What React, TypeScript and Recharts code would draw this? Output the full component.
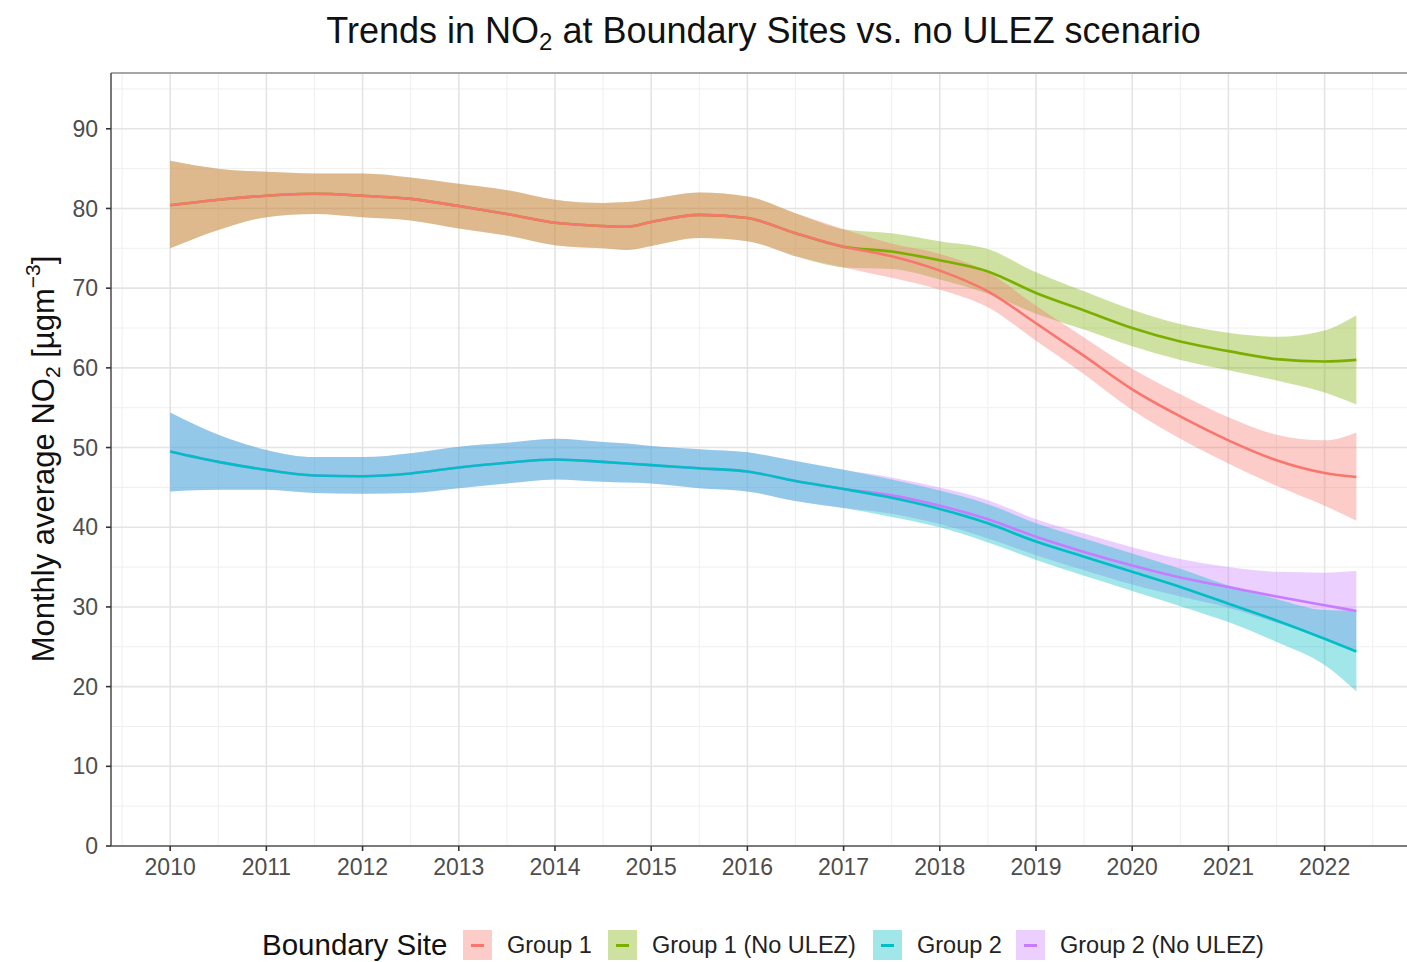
import React from 'react';
import { ComposedChart, Area, Line, XAxis, YAxis, CartesianGrid, ReferenceLine } from 'recharts';

// sampled points of the smoothed trends (years)
const YEARS = [
  2010, 2010.5, 2011, 2011.5, 2012, 2012.5, 2013, 2013.5, 2014, 2014.5, 2014.75, 2015, 2015.5,
  2016, 2016.5, 2017, 2017.5, 2018, 2018.5, 2019, 2019.5, 2020, 2020.5, 2021, 2021.5, 2022, 2022.33,
];

// Group 1 (actual)
const G1_FIT = [80.4, 81.1, 81.6, 81.85, 81.6, 81.2, 80.3, 79.3, 78.2, 77.8, 77.7, 78.3, 79.2, 78.8, 76.9, 75.2, 74.0, 72.2, 69.6, 65.6, 61.5, 57.3, 53.9, 50.9, 48.4, 46.8, 46.3];
const G1_LO = [75.0, 77.3, 78.9, 79.3, 78.9, 78.5, 77.5, 76.6, 75.4, 75.0, 74.8, 75.3, 76.3, 75.9, 74.0, 72.6, 71.3, 69.8, 67.6, 63.4, 59.2, 54.7, 51.1, 48.0, 45.2, 42.7, 40.8];
const G1_HI = [86.0, 85.0, 84.6, 84.4, 84.4, 83.9, 83.1, 82.3, 81.1, 80.7, 80.8, 81.2, 82.0, 81.5, 79.4, 77.4, 75.6, 74.3, 72.0, 67.8, 63.8, 59.9, 56.7, 53.8, 51.6, 50.9, 51.9];

// Group 2 (actual)
const G2_FIT = [49.5, 48.2, 47.2, 46.5, 46.4, 46.75, 47.5, 48.1, 48.5, 48.2, 48.0, 47.8, 47.4, 47.0, 45.8, 44.8, 43.7, 42.3, 40.5, 38.2, 36.3, 34.4, 32.5, 30.4, 28.3, 26.0, 24.4];
const G2_LO = [44.5, 44.7, 44.7, 44.3, 44.2, 44.3, 44.9, 45.5, 46.0, 45.7, 45.6, 45.5, 44.9, 44.5, 43.3, 42.4, 41.3, 40.0, 38.1, 35.9, 33.9, 32.0, 30.1, 28.1, 25.6, 22.7, 19.4];
const G2_HI = [54.4, 51.6, 49.7, 48.8, 48.8, 49.3, 50.1, 50.6, 51.1, 50.7, 50.5, 50.2, 49.8, 49.4, 48.3, 47.2, 46.0, 44.6, 42.9, 40.5, 38.6, 36.7, 34.8, 32.7, 31.0, 29.6, 29.5];

// no ULEZ scenarios, from 2017 on (before that they follow the actual series)
const SCENARIO_START = 2017;
const G1N_FIT = [75.2, 74.6, 73.5, 72.1, 69.4, 67.2, 65.0, 63.3, 62.1, 61.1, 60.8, 61.0];
const G1N_LO = [72.6, 72.4, 71.1, 69.3, 66.8, 64.8, 62.7, 61.0, 59.7, 58.4, 56.9, 55.4];
const G1N_HI = [77.4, 76.9, 75.9, 74.9, 72.0, 69.6, 67.3, 65.5, 64.4, 63.9, 64.7, 66.6];
const G2N_FIT = [44.8, 44.0, 42.7, 41.0, 38.8, 36.9, 35.2, 33.7, 32.5, 31.3, 30.2, 29.5];
const G2N_LO = [42.4, 41.7, 40.4, 38.6, 36.5, 34.6, 32.8, 31.3, 29.9, 28.0, 26.0, 24.6];
const G2N_HI = [47.2, 46.25, 45.0, 43.4, 41.0, 39.2, 37.5, 36.0, 35.0, 34.4, 34.3, 34.5];

const X_TICKS = [2010, 2011, 2012, 2013, 2014, 2015, 2016, 2017, 2018, 2019, 2020, 2021, 2022];
const Y_TICKS = [0, 10, 20, 30, 40, 50, 60, 70, 80, 90];
const X_MINOR = [2009.5, 2010.5, 2011.5, 2012.5, 2013.5, 2014.5, 2015.5, 2016.5, 2017.5, 2018.5, 2019.5, 2020.5, 2021.5, 2022.5];
const Y_MINOR = [5, 15, 25, 35, 45, 55, 65, 75, 85, 95];

const SERIES = [
  { key: 'g1', label: 'Group 1', color: '#F8766D' },
  { key: 'g1n', label: 'Group 1 (No ULEZ)', color: '#7CAE00' },
  { key: 'g2', label: 'Group 2', color: '#00BFC4' },
  { key: 'g2n', label: 'Group 2 (No ULEZ)', color: '#C77CFF' },
];

const startIdx = YEARS.indexOf(SCENARIO_START);
const data = YEARS.map((year, i) => {
  const j = i - startIdx;
  const after = j >= 0;
  return {
    year,
    g1: G1_FIT[i],
    g1Band: [G1_LO[i], G1_HI[i]],
    g2: G2_FIT[i],
    g2Band: [G2_LO[i], G2_HI[i]],
    g1n: after ? G1N_FIT[j] : G1_FIT[i],
    g1nBand: after ? [G1N_LO[j], G1N_HI[j]] : [G1_LO[i], G1_HI[i]],
    g2n: after ? G2N_FIT[j] : G2_FIT[i],
    g2nBand: after ? [G2N_LO[j], G2N_HI[j]] : [G2_LO[i], G2_HI[i]],
  };
});

const FONT = '"Liberation Sans", Arial, Helvetica, sans-serif';
const BAND_ALPHA = 0.37;
const colorOf = (k: string) => SERIES.find(s => s.key === k)!.color;

const hexA = (hex: string, a: number) => {
  const n = parseInt(hex.slice(1), 16);
  return `rgba(${(n >> 16) & 255}, ${(n >> 8) & 255}, ${n & 255}, ${a})`;
};

const LEGEND_X = [463, 608, 873, 1016];

export default function App() {
  return (
    <div style={{ position: 'absolute', left: 0, top: 0, width: 1407, height: 962, overflow: 'hidden', background: '#fff', fontFamily: FONT }}>
      <div style={{ position: 'absolute', left: 111, width: 1305, top: 10, textAlign: 'center', fontSize: 36, color: '#111', whiteSpace: 'nowrap' }}>
        Trends in NO<sub style={{ fontSize: 24, verticalAlign: -7 }}>2</sub> at Boundary Sites vs. no ULEZ scenario
      </div>
      <div
        style={{
          position: 'absolute', left: 43, top: 459, transform: 'translate(-50%, -50%) rotate(-90deg)',
          whiteSpace: 'nowrap', fontSize: 31, color: '#111',
        }}
      >
        Monthly average NO<sub style={{ fontSize: 21, verticalAlign: -6 }}>2</sub> [µgm<sup style={{ fontSize: 21, verticalAlign: 14 }}>−3</sup>]
      </div>

      <ComposedChart width={1420} height={962} data={data} margin={{ top: 73, right: 4, bottom: 86, left: 0 }}>
        <CartesianGrid horizontalValues={Y_MINOR} verticalValues={X_MINOR} stroke="#efefef" strokeWidth={1} />
        <CartesianGrid horizontalValues={Y_TICKS} verticalValues={X_TICKS} stroke="#e4e4e4" strokeWidth={1.6} />
        <XAxis
          dataKey="year" type="number" domain={[2009.385, 2022.95]} ticks={X_TICKS} allowDataOverflow
          height={30} tickSize={5} tickMargin={8}
          tick={{ fill: '#4d4d4d', fontSize: 23, fontFamily: FONT }}
          axisLine={{ stroke: '#555', strokeWidth: 1.6 }} tickLine={{ stroke: '#333', strokeWidth: 1.6 }}
        />
        <YAxis
          type="number" domain={[0, 97]} ticks={Y_TICKS} allowDataOverflow
          width={111} tickSize={5} tickMargin={8}
          tick={{ fill: '#4d4d4d', fontSize: 23, fontFamily: FONT }}
          axisLine={{ stroke: '#555', strokeWidth: 1.6 }} tickLine={{ stroke: '#333', strokeWidth: 1.6 }}
        />
        <ReferenceLine y={97} stroke="#a6a6a6" strokeWidth={2} />

        <Area dataKey="g1nBand" type="monotone" stroke="none" fill={colorOf('g1n')} fillOpacity={BAND_ALPHA} isAnimationActive={false} />
        <Area dataKey="g1Band" type="monotone" stroke="none" fill={colorOf('g1')} fillOpacity={BAND_ALPHA} isAnimationActive={false} />
        <Area dataKey="g2nBand" type="monotone" stroke="none" fill={colorOf('g2n')} fillOpacity={BAND_ALPHA} isAnimationActive={false} />
        <Area dataKey="g2Band" type="monotone" stroke="none" fill={colorOf('g2')} fillOpacity={BAND_ALPHA} isAnimationActive={false} />

        <Line dataKey="g1n" type="monotone" stroke={colorOf('g1n')} strokeWidth={2.6} dot={false} isAnimationActive={false} />
        <Line dataKey="g1" type="monotone" stroke={colorOf('g1')} strokeWidth={2.6} dot={false} isAnimationActive={false} />
        <Line dataKey="g2n" type="monotone" stroke={colorOf('g2n')} strokeWidth={2.6} dot={false} isAnimationActive={false} />
        <Line dataKey="g2" type="monotone" stroke={colorOf('g2')} strokeWidth={2.6} dot={false} isAnimationActive={false} />
      </ComposedChart>

      <div style={{ position: 'absolute', left: 262, top: 928, fontSize: 29.5, color: '#111', lineHeight: '34px', whiteSpace: 'nowrap' }}>Boundary Site</div>
      {SERIES.map((s, i) => (
        <React.Fragment key={s.key}>
          <div style={{ position: 'absolute', left: LEGEND_X[i], top: 930, width: 29, height: 30, background: hexA(s.color, BAND_ALPHA) }}>
            <div style={{ position: 'absolute', left: 8, top: 14, width: 13, height: 3, background: s.color }} />
          </div>
          <div style={{ position: 'absolute', left: LEGEND_X[i] + 44, top: 931, fontSize: 23.5, color: '#222', lineHeight: '28px', whiteSpace: 'nowrap' }}>
            {s.label}
          </div>
        </React.Fragment>
      ))}
    </div>
  );
}
